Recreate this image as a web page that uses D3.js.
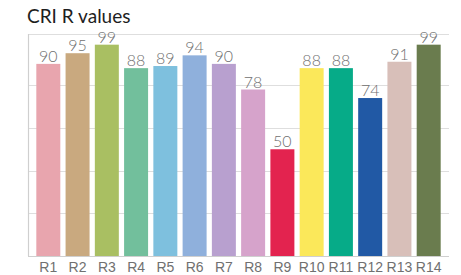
<!DOCTYPE html>
<html>
<head>
<meta charset="utf-8">
<script src="https://cdn.jsdelivr.net/npm/d3@7"></script>
<style>
  body { margin: 0; background: #fff; }
  svg { display: block; font-family: Lato, "Open Sans", sans-serif; }
  .title { font-size: 19px; fill: #1e1e1e; }
  .val { font-size: 16px; fill: #707070; font-weight: 300; }
  .axis text { font-size: 14px; fill: #707070; font-weight: 300; }
</style>
</head>
<body>
<div id="chart"></div>
<script>
// chart data
var categories = ["R1", "R2", "R3", "R4", "R5", "R6", "R7", "R8", "R9", "R10", "R11", "R12", "R13", "R14"];
var values = [90, 95, 99, 88, 89, 94, 90, 78, 50, 88, 88, 74, 91, 99];
var colors = ["#e8a5ae", "#c9a97f", "#a9bf62", "#72bf9c", "#7ec0de", "#8fb0dc", "#b8a0cf",
              "#d6a3cb", "#e3234f", "#fbe85a", "#06ab88", "#2159a5", "#d8bfb9", "#6a7c4e"];
var gridTicks = [20, 40, 60, 80];

var data = categories.map(function(c, i) {
    return {name: c, value: values[i], color: colors[i]};
});

var width = 461, height = 275;
var plot = {left: 28, right: 449, top: 34, bottom: 256};

var svg = d3.select("#chart").append("svg")
    .attr("width", width)
    .attr("height", height);

// set the ranges
var x = d3.scaleBand()
    .domain(categories)
    .range([plot.left + 1, plot.right - 1])
    .paddingInner(0.18)
    .paddingOuter(0.25);

var y = d3.scaleLinear()
    .domain([0, 104])
    .range([plot.bottom, plot.top]);

// title
svg.append("text")
    .attr("class", "title")
    .attr("x", 27)
    .attr("y", 23)
    .text("CRI R values");

// grid lines
svg.selectAll(".grid")
    .data(gridTicks.concat([104]))
    .enter().append("line")
    .attr("class", "grid")
    .attr("x1", plot.left)
    .attr("x2", plot.right)
    .attr("y1", function(d) { return Math.round(y(d)) + 0.5; })
    .attr("y2", function(d) { return Math.round(y(d)) + 0.5; })
    .style("stroke", "#dedede")
    .style("stroke-width", 1.2);

// bars
svg.selectAll(".bar")
    .data(data)
    .enter().append("rect")
    .attr("class", "bar")
    .attr("x", function(d) { return x(d.name); })
    .attr("width", x.bandwidth())
    .attr("y", function(d) { return y(d.value); })
    .attr("height", function(d) { return plot.bottom - y(d.value); })
    .style("fill", function(d) { return d.color; });

// value labels
svg.selectAll(".val")
    .data(data)
    .enter().append("text")
    .attr("class", "val")
    .attr("x", function(d) { return x(d.name) + x.bandwidth() / 2; })
    .attr("y", function(d) { return y(d.value) - 2; })
    .style("text-anchor", "middle")
    .text(function(d) { return d.value; });

// left axis line
svg.append("line")
    .attr("x1", plot.left + 0.5)
    .attr("x2", plot.left + 0.5)
    .attr("y1", plot.top)
    .attr("y2", plot.bottom)
    .style("stroke", "#cfcfcf")
    .style("stroke-width", 1.2);

// x axis
var xAxis = d3.axisBottom(x).tickSize(0).tickPadding(6);
var gx = svg.append("g")
    .attr("class", "axis")
    .attr("transform", "translate(0," + plot.bottom + ")")
    .call(xAxis);
gx.select(".domain")
    .attr("d", "M" + plot.left + ",0.5H" + plot.right)
    .style("stroke", "#cfcfcf")
    .style("stroke-width", 1.2);
</script>
</body>
</html>
